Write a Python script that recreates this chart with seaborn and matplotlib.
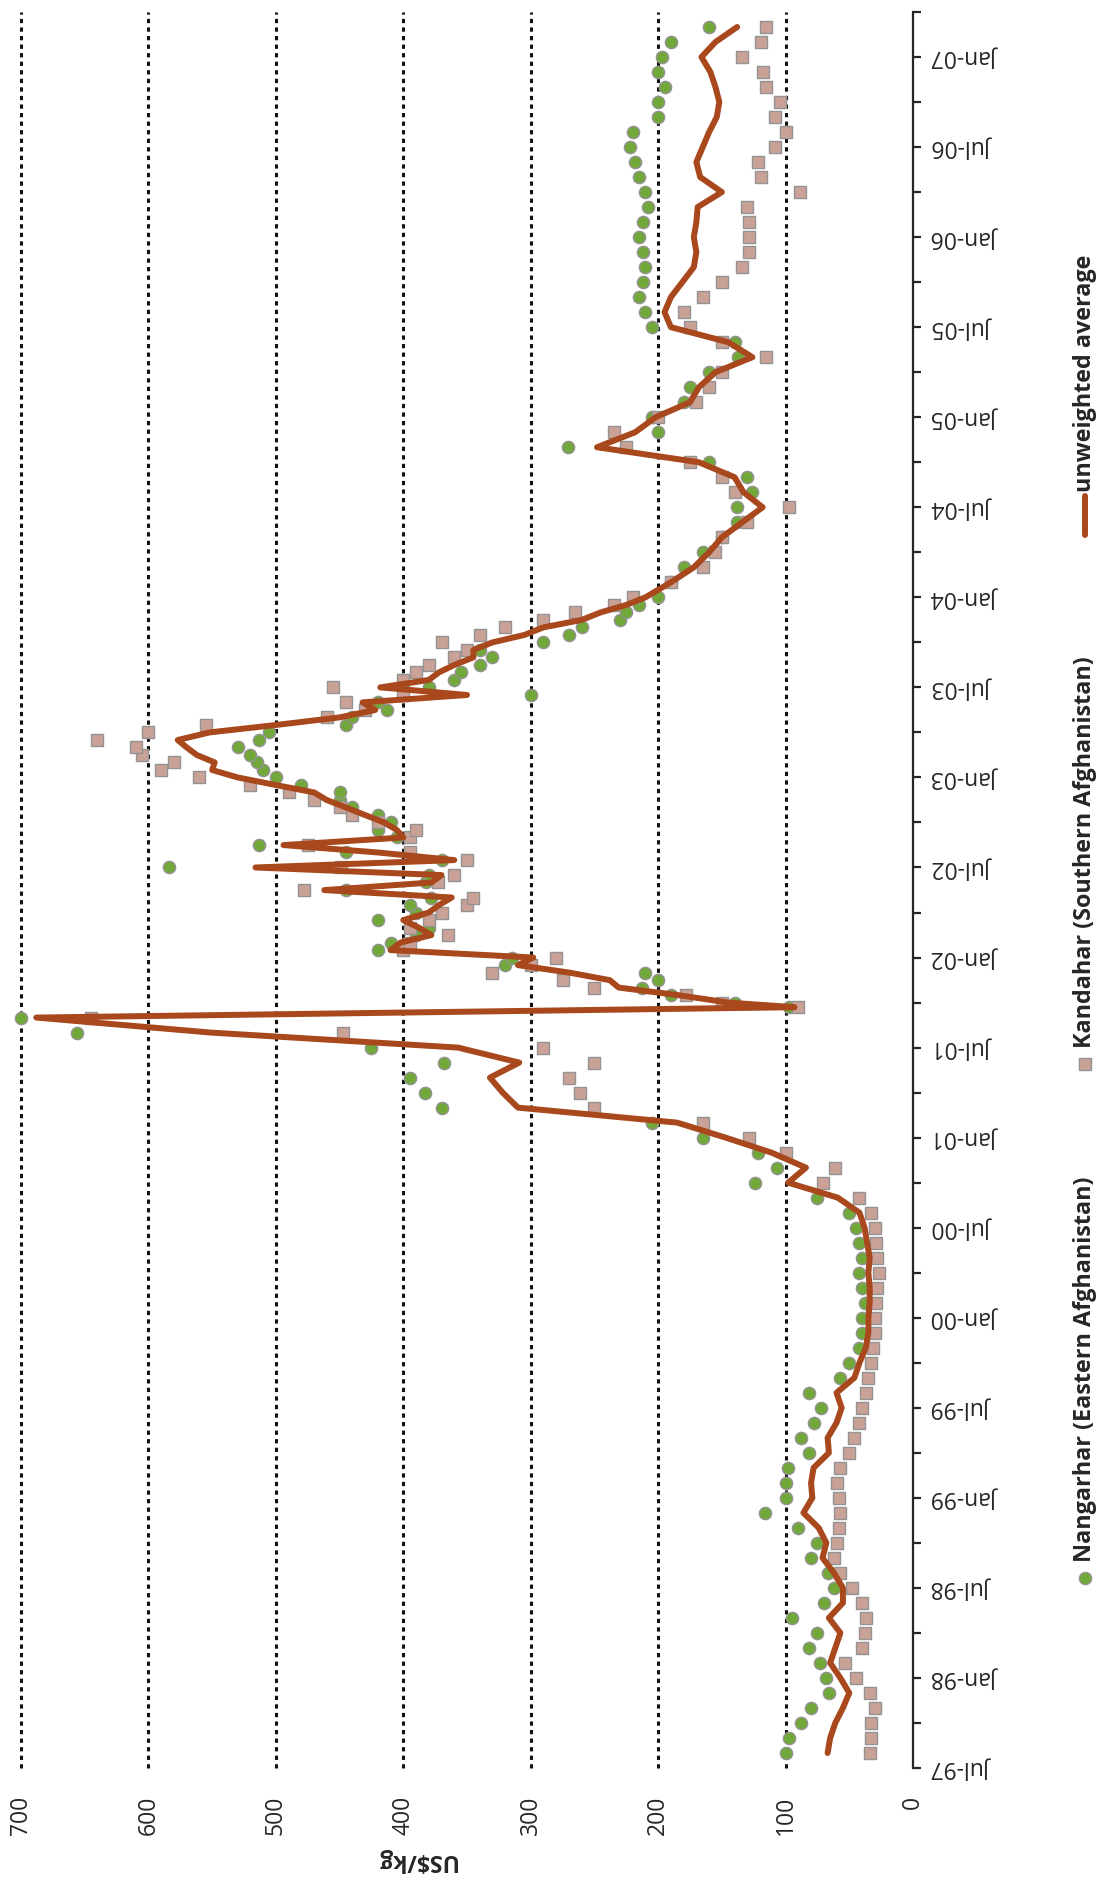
import numpy as np
import pandas as pd
import matplotlib
matplotlib.use("Agg")
import matplotlib.pyplot as plt
import seaborn as sns
from matplotlib.lines import Line2D

# ---------------- data ----------------
dates = (
    [f"{y}-{m:02d}-01" for y, m in
     [(1997, m) for m in range(8, 13)] + [(1998, m) for m in range(1, 13)] +
     [(1999, m) for m in range(1, 13)] + [(2000, m) for m in range(1, 13)] +
     [(2001, m) for m in range(1, 10)]]
    + ["2001-09-22"]
    + [f"{y}-{m:02d}-{d:02d}" for y, m in
       [(2001, m) for m in range(10, 13)] + [(2002, m) for m in range(1, 13)] +
       [(2003, m) for m in range(1, 13)] for d in (1, 16)]
    + [f"{y}-{m:02d}-01" for y, m in
       [(2004, m) for m in range(1, 13)] + [(2005, m) for m in range(1, 13)] +
       [(2006, m) for m in range(1, 13)] + [(2007, m) for m in range(1, 4)]]
)

nangarhar = [
    100, 97, 88, 80, 66, 68, 73, 82, 75, 95,
    70, 62, 67, 80, 75, 90, 116, 100, 100, 98,
    82, 88, 78, 72, 82, 57, 50, 42, 40, 40,
    38, 40, 42, 40, 42, 45, 50, 75, 124, 107,
    122, 165, 205, 370, 383, 395, 368, 425, 656, 700,
    97,
    140, 190, 213, 200, 210, 320,
    315, 420, 410, 390, 380, 420, 390, 395, 378, 445, 382, 380,
    584, 370, 445, 513, 405, 420, 410, 420, 440, 450, 450, 480,
    500, 510, 515, 520, 530, 513, 505, 445, 440, 413, 420, 300,
    380, 360, 355, 340, 330, 340, 290, 270, 260, 230, 225, 215,
    200, 190, 180, 165, 150, 138, 138, 126, 130, 160, 271, 200,
    205, 180, 175, 160, 137, 140, 205, 210, 215, 212, 210, 212,
    215, 212, 208, 210, 215, 218, 222, 220, 200, 200, 195, 200,
    197, 190, 160,
]

kandahar = [
    34, 33, 33, 30, 34, 45, 53, 40, 38, 37,
    40, 48, 57, 62, 60, 58, 57, 58, 60, 57,
    50, 46, 42, 40, 37, 35, 33, 31, 30, 30,
    29, 28, 27, 28, 29, 30, 33, 42, 71, 61,
    100, 129, 165, 250, 261, 270, 250, 290, 447, 645,
    90,
    150, 178, 250, 275, 330, 300,
    280, 400, 395, 365, 395, 380, 370, 350, 345, 478, 373, 360,
    449, 350, 395, 475, 395, 390, 420, 440, 450, 470, 490, 520,
    560, 590, 580, 605, 610, 640, 600, 555, 460, 430, 445, 400,
    455, 400, 390, 380, 360, 350, 370, 340, 320, 290, 265, 235,
    220, 190, 165, 155, 150, 130, 97, 140, 150, 175, 225, 235,
    200, 170, 160, 150, 115, 150, 175, 180, 165, 150, 134, 129,
    129, 129, 130, 89, 119, 122, 108, 100, 108, 104, 115, 118,
    134, 119, 115,
]

average = [
    67, 65, 61, 55, 50, 57, 65, 61, 57, 66,
    55, 55, 62, 71, 68, 74, 86, 79, 80, 78,
    66, 67, 60, 56, 60, 46, 42, 37, 35, 35,
    34, 34, 35, 34, 36, 38, 42, 59, 98, 84,
    111, 147, 185, 310, 322, 332, 309, 357, 551, 688,
    93,
    145, 184, 231, 238, 270, 310,
    298, 410, 402, 378, 388, 400, 380, 372, 362, 462, 378, 370,
    516, 360, 420, 494, 400, 405, 415, 430, 445, 460, 470, 500,
    530, 550, 548, 562, 570, 577, 552, 500, 450, 422, 432, 350,
    418, 380, 372, 360, 345, 345, 330, 305, 290, 260, 245, 225,
    210, 190, 172, 160, 150, 134, 118, 133, 140, 168, 248, 218,
    202, 175, 168, 155, 126, 145, 190, 195, 190, 181, 172, 170,
    172, 170, 169, 150, 167, 170, 165, 160, 154, 152, 155, 159,
    166, 155, 138,
]

date_tick_labels = ["Jul-97", "Jan-98", "Jul-98", "Jan-99", "Jul-99", "Jan-00",
                    "Jul-00", "Jan-01", "Jul-01", "Jan-02", "Jul-02", "Jan-03",
                    "Jul-03", "Jan-04", "Jul-04", "Jan-05", "Jul-05", "Jan-06",
                    "Jul-06", "Jan-07"]
value_ticks = [0, 100, 200, 300, 400, 500, 600, 700]
series_names = ["Nangarhar (Eastern Afghanistan)",
                "Kandahar (Southern Afghanistan)",
                "unweighted average"]

# ---------------- style ----------------
sns.set_theme(style="white")
plt.rcParams['font.family'] = ['Open Sans', 'DejaVu Sans']

GREEN = "#72a83a"
PINK = "#c9a196"
EDGE = "#939393"
RUST = "#a8481c"
INK = "#262626"

W, H = 1101, 1877
fig = plt.figure(figsize=(W / 100, H / 100), dpi=100)
x0, x1 = 21, 913          # pixel x of 700 and of 0
ytop, ybot = 12, 1768     # pixel y of axis top and of Jul-97
ax = fig.add_axes([x0 / W, 1 - ybot / H, (x1 - x0) / W, (ybot - ytop) / H])

d = pd.to_datetime(pd.Series(dates))
month = (d.dt.year - 1997) * 12 + (d.dt.month - 7) + (d.dt.day - 1) / 30.4
df = pd.DataFrame({"month": month, "nangarhar": nangarhar,
                   "kandahar": kandahar, "average": average})

sns.scatterplot(data=df, x="nangarhar", y="month", marker="o", s=78,
                color=GREEN, edgecolor=EDGE, linewidth=1.0, ax=ax, zorder=3,
                legend=False, clip_on=False)
sns.scatterplot(data=df, x="kandahar", y="month", marker="s", s=84,
                color=PINK, edgecolor=EDGE, linewidth=1.0, ax=ax, zorder=3,
                legend=False, clip_on=False)
sns.lineplot(data=df, x="average", y="month", sort=False, estimator=None,
             color=RUST, linewidth=4.3, ax=ax, zorder=4, legend=False,
             solid_joinstyle="round", solid_capstyle="round")

ax.set_xlim(700, 0)
ax.set_ylim(0, 117)

for s in ("left", "top", "bottom"):
    ax.spines[s].set_visible(False)
ax.spines["right"].set_color(INK)
ax.spines["right"].set_linewidth(1.6)

ax.yaxis.tick_right()
ax.set_yticks(np.arange(0, 115, 6))
ax.set_yticks(np.arange(3, 118, 6), minor=True)
ax.set_yticklabels(date_tick_labels, rotation=180, va="center", ha="left")
ax.tick_params(axis="y", which="both", direction="out", length=6, width=1.6,
               color=INK, right=True, left=False, pad=9, labelsize=16.5,
               labelcolor=INK)

ax.set_xticks(value_ticks)
ax.set_xticklabels([str(v) for v in value_ticks], rotation=90)
ax.tick_params(axis="x", length=0, pad=20, labelsize=16.5, labelcolor=INK)

ax.grid(axis="x", color="#111111", linestyle=(0, (1.4, 1.4)), linewidth=2.2)
ax.grid(axis="y", visible=False)
gls = ax.xaxis.get_gridlines()
gls[0].set_visible(False)
for gl in gls:
    gl.set_clip_on(False)

ax.set_xlabel("US$/kg", rotation=180, fontsize=16.5, fontweight="bold",
              color=INK)
ax.set_ylabel("")
ax.xaxis.set_label_coords((416 - x0) / (x1 - x0), (ybot - 1860) / (ybot - ytop))
ax.xaxis.label.set_va("center")

# ---------------- legend (rotated) ----------------
lx = 1085 / W
fs_leg = 16.8
def fy(py):
    return 1 - py / H

fig.add_artist(Line2D([lx], [fy(1578)], transform=fig.transFigure, marker="o",
                      markersize=8.8, markerfacecolor=GREEN,
                      markeredgecolor=EDGE, markeredgewidth=1.0, linestyle=""))
fig.text(lx, fy(1562), series_names[0], rotation=90, ha="center", va="bottom",
         fontsize=fs_leg, fontweight="bold", color=INK)

fig.add_artist(Line2D([lx], [fy(1064)], transform=fig.transFigure, marker="s",
                      markersize=9.2, markerfacecolor=PINK,
                      markeredgecolor=EDGE, markeredgewidth=1.0, linestyle=""))
fig.text(lx, fy(1048), series_names[1], rotation=90, ha="center", va="bottom",
         fontsize=fs_leg, fontweight="bold", color=INK)

fig.add_artist(Line2D([lx, lx], [fy(535), fy(496)], transform=fig.transFigure,
                      color=RUST, linewidth=4.3, solid_capstyle="round"))
fig.text(lx, fy(492), series_names[2], rotation=90, ha="center", va="bottom",
         fontsize=fs_leg, fontweight="bold", color=INK)

fig.savefig("out.png", dpi=100, facecolor="white")
